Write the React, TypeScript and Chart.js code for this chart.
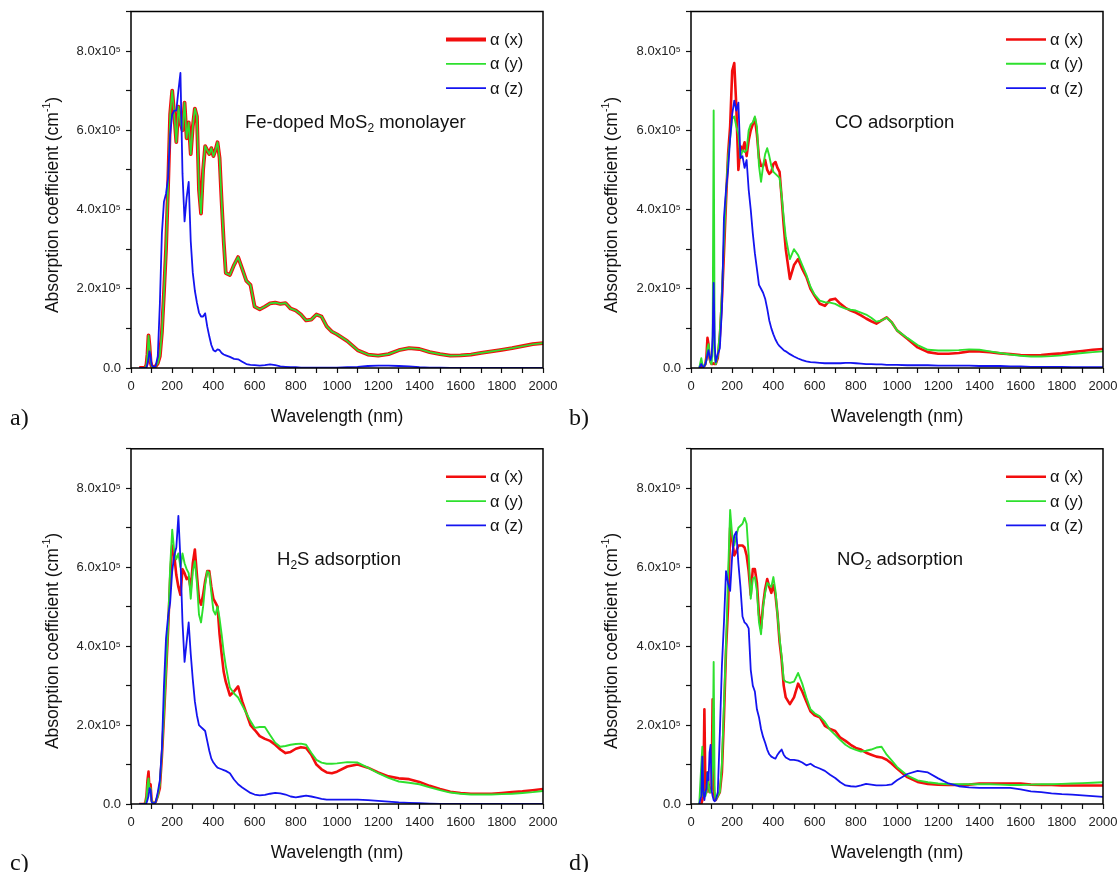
import React, { useEffect, useRef } from 'react';
import { Chart, registerables } from 'chart.js';

Chart.register(...registerables);

// ---------------- data (absorption coefficient in units of 10^5 cm^-1) ----------------
const wavelength = [
  40, 50, 55, 60, 65, 70, 75, 80, 85, 90, 95, 100, 105, 110, 115, 120, 130,
  140, 150, 160, 170, 180, 190, 200, 210, 220, 230, 240, 250, 260, 270, 280, 290, 300, 310, 320, 330,
  340, 350, 360, 370, 380, 390, 400, 410, 420, 430, 440, 450, 460,
  480, 500, 520, 540, 560, 580, 600, 625, 650, 675, 700, 725, 750, 775, 800, 825, 850, 875, 900, 925, 950, 975, 1000,
  1050, 1100, 1150, 1200, 1250, 1300, 1350, 1400, 1450, 1500, 1550, 1600, 1650, 1700, 1750, 1800, 1850, 1900, 1950, 2000,
];

// a) Fe-doped MoS2 monolayer
const feDopedX = [
  0, 0, 0, 0, 0, 0.02, 0.08, 0.35, 0.82, 0.55, 0.15, 0.05, 0.03, 0.03, 0.03, 0.05, 0.12,
  0.3, 0.9, 1.9, 3.0, 4.6, 6.4, 7.0, 6.4, 5.7, 6.6, 6.2, 6.0, 6.7, 5.8, 6.2, 5.4, 6.1, 6.55, 6.35, 4.5,
  3.9, 5.0, 5.6, 5.5, 5.4, 5.55, 5.35, 5.5, 5.7, 5.3, 4.2, 3.2, 2.4,
  2.35, 2.6, 2.8, 2.5, 2.2, 2.1, 1.55, 1.48, 1.55, 1.63, 1.65, 1.62, 1.64, 1.5, 1.45, 1.35, 1.2, 1.22, 1.35, 1.3, 1.05, 0.92, 0.85,
  0.68, 0.45, 0.34, 0.31, 0.35, 0.45, 0.5, 0.48, 0.4, 0.35, 0.31, 0.32, 0.34, 0.38, 0.42, 0.46, 0.5, 0.55, 0.6, 0.63,
];
const feDopedY = [
  0, 0, 0, 0, 0, 0.02, 0.08, 0.35, 0.82, 0.55, 0.15, 0.05, 0.03, 0.03, 0.03, 0.05, 0.12,
  0.3, 0.9, 1.9, 3.0, 4.6, 6.4, 7.0, 6.4, 5.7, 6.6, 6.2, 6.0, 6.7, 5.8, 6.2, 5.4, 6.1, 6.55, 6.35, 4.5,
  3.9, 5.0, 5.6, 5.5, 5.4, 5.55, 5.35, 5.5, 5.7, 5.3, 4.2, 3.2, 2.4,
  2.35, 2.6, 2.8, 2.5, 2.2, 2.1, 1.55, 1.48, 1.55, 1.63, 1.65, 1.62, 1.64, 1.5, 1.45, 1.35, 1.2, 1.22, 1.35, 1.3, 1.05, 0.92, 0.85,
  0.68, 0.45, 0.34, 0.31, 0.35, 0.45, 0.5, 0.48, 0.4, 0.35, 0.31, 0.32, 0.34, 0.38, 0.42, 0.46, 0.5, 0.55, 0.6, 0.63,
];
const feDopedZ = [
  0, 0, 0, 0, 0, 0, 0.02, 0.1, 0.25, 0.42, 0.3, 0.08, 0.04, 0.03, 0.03, 0.05, 0.3,
  1.6, 3.4, 4.2, 4.4, 4.8, 5.9, 6.4, 6.5, 6.5, 7.0, 7.45, 4.9, 3.7, 4.3, 4.7, 3.2, 2.4, 1.95, 1.65, 1.4,
  1.3, 1.3, 1.38, 1.05, 0.8, 0.58, 0.45, 0.42, 0.47, 0.45, 0.38, 0.34, 0.32,
  0.28, 0.23, 0.22, 0.16, 0.1, 0.08, 0.07, 0.06, 0.07, 0.09, 0.07, 0.04, 0.03, 0.02, 0.02, 0.01, 0.01, 0.01, 0.01, 0.01, 0.01, 0.01, 0.01,
  0.02, 0.03, 0.05, 0.06, 0.06, 0.05, 0.04, 0.02, 0.01, 0.01, 0, 0, 0, 0, 0, 0, 0, 0, 0, 0,
];

// b) CO adsorption
const coX = [
  0, 0.02, 0.05, 0.05, 0.05, 0.1, 0.3, 0.76, 0.6, 0.25, 0.15, 0.1, 0.1, 0.12, 0.1, 0.1, 0.25,
  0.8, 1.7, 2.9, 4.2, 5.4, 6.1, 7.5, 7.7, 6.6, 5.0, 5.6, 5.5, 5.7, 5.35, 5.75, 6.0, 6.15, 6.3, 5.9, 5.3,
  5.1, 5.1, 5.25, 5.0, 4.9, 4.95, 5.15, 5.2, 5.05, 4.95, 4.3, 3.6, 3.0,
  2.25, 2.6, 2.75, 2.5, 2.3, 2.0, 1.82, 1.62, 1.57, 1.72, 1.75, 1.62, 1.52, 1.45, 1.4, 1.33, 1.25, 1.18, 1.12, 1.2, 1.28, 1.15, 0.95,
  0.74, 0.52, 0.4, 0.36, 0.36, 0.38, 0.42, 0.42, 0.4, 0.37, 0.35, 0.33, 0.32, 0.33, 0.35, 0.37, 0.4, 0.43, 0.46, 0.48,
];
const coY = [
  0, 0.25, 0.1, 0.02, 0.05, 0.1, 0.2, 0.5, 0.6, 0.3, 0.15, 0.1, 0.5, 6.5, 0.3, 0.1, 0.3,
  0.9, 1.9, 3.2, 4.4, 5.3, 5.8, 6.3, 6.35, 6.1, 5.9, 5.3, 5.5, 5.45, 5.5, 6.0, 6.15, 6.2, 6.35, 6.1, 5.1,
  4.7, 5.1, 5.4, 5.55, 5.35, 5.1, 4.95, 4.9, 4.85, 4.8, 4.35, 3.8, 3.3,
  2.75, 3.0, 2.85, 2.6, 2.35, 2.05, 1.85, 1.7, 1.66, 1.65, 1.62, 1.55, 1.5, 1.47, 1.45, 1.4, 1.35, 1.27, 1.17, 1.2, 1.27, 1.15, 0.95,
  0.76, 0.58, 0.46, 0.44, 0.44, 0.45, 0.47, 0.46, 0.42, 0.38, 0.34, 0.31, 0.29, 0.29, 0.3, 0.32, 0.35, 0.38, 0.4, 0.42,
];
const coZ = [
  0, 0.1, 0.05, 0.02, 0.05, 0.1, 0.2, 0.35, 0.45, 0.3, 0.2, 0.3, 0.8, 2.15, 0.6, 0.15, 0.35,
  0.5, 1.5, 3.8, 4.5, 5.0, 5.8, 6.4, 6.75, 6.5, 6.7, 5.3, 5.35, 5.05, 5.25, 4.5, 4.0, 3.4, 2.9, 2.5, 2.1,
  2.0, 1.9, 1.75, 1.5, 1.2, 1.0, 0.85, 0.72, 0.62, 0.55, 0.5, 0.45, 0.42,
  0.35, 0.29, 0.24, 0.2, 0.17, 0.15, 0.14, 0.13, 0.12, 0.12, 0.12, 0.12, 0.13, 0.13, 0.12, 0.11, 0.1, 0.1, 0.09, 0.09, 0.08, 0.08, 0.08,
  0.07, 0.07, 0.07, 0.06, 0.06, 0.06, 0.06, 0.05, 0.05, 0.05, 0.04, 0.04, 0.03, 0.03, 0.03, 0.03, 0.02, 0.02, 0.02, 0.02,
];

// c) H2S adsorption
const h2sX = [
  0, 0, 0, 0, 0, 0.05, 0.2, 0.6, 0.82, 0.35, 0.5, 0.1, 0.03, 0.03, 0.03, 0.05, 0.2,
  0.4, 1.2, 2.2, 3.3, 4.4, 5.7, 6.55, 6.3, 5.8, 5.5, 5.3, 5.95, 5.85, 5.7, 5.75, 5.45, 6.1, 6.45, 5.8, 5.2,
  5.05, 5.3, 5.65, 5.9, 5.9, 5.5, 5.2, 5.1, 5.0, 4.3, 3.8, 3.35, 3.1,
  2.75, 2.85, 2.98, 2.6, 2.3, 2.0, 1.88, 1.72, 1.65, 1.6, 1.5, 1.38, 1.29, 1.32, 1.4, 1.44, 1.42, 1.25, 1.0, 0.88, 0.8, 0.78, 0.82,
  0.95, 1.0, 0.92, 0.8, 0.7, 0.65, 0.63, 0.56, 0.46, 0.38, 0.31, 0.28, 0.26, 0.26, 0.26, 0.28, 0.3, 0.32, 0.35, 0.38,
];
const h2sY = [
  0, 0, 0, 0, 0, 0.03, 0.15, 0.45, 0.65, 0.3, 0.4, 0.08, 0.03, 0.03, 0.03, 0.05, 0.2,
  0.5, 1.3, 2.3, 3.4, 4.5, 6.0, 6.95, 6.4, 6.2, 6.35, 6.0, 6.35, 6.1, 5.95, 5.85, 5.2, 5.9, 6.15, 5.6, 4.8,
  4.6, 5.0, 5.55, 5.9, 5.85, 5.35, 4.9, 4.8, 5.0, 4.7, 4.3, 3.85, 3.5,
  2.95, 2.8, 2.7, 2.5, 2.3, 2.1, 1.93, 1.95, 1.95, 1.75, 1.55, 1.45, 1.47, 1.5, 1.52, 1.53, 1.5, 1.3, 1.12, 1.05, 1.02, 1.02, 1.03,
  1.06, 1.05, 0.92, 0.78, 0.66, 0.57, 0.54, 0.5, 0.42, 0.35, 0.29, 0.26, 0.24, 0.24, 0.24, 0.25, 0.26, 0.28, 0.3, 0.33,
];
const h2sZ = [
  0, 0, 0, 0, 0, 0, 0.02, 0.1, 0.2, 0.4, 0.35, 0.05, 0.02, 0.02, 0.02, 0.05, 0.3,
  0.6, 1.4, 3.0, 4.2, 4.75, 5.1, 5.9, 6.3, 6.5, 7.3, 6.2, 4.6, 3.6, 4.1, 4.6, 3.8, 3.15, 2.6, 2.25, 2.0,
  1.95, 1.9, 1.85, 1.6, 1.35, 1.15, 1.05, 0.98, 0.92, 0.9, 0.88, 0.86, 0.84,
  0.78, 0.62, 0.5, 0.42, 0.35, 0.28, 0.24, 0.22, 0.23, 0.26, 0.28, 0.27, 0.24, 0.19, 0.17, 0.19, 0.21, 0.19, 0.16, 0.13, 0.11, 0.11, 0.11,
  0.11, 0.11, 0.1, 0.08, 0.06, 0.04, 0.03, 0.02, 0.01, 0, 0, 0, 0, 0, 0, 0, 0, 0, 0, 0,
];

// d) NO2 adsorption
const no2X = [
  0, 0, 0.1, 0.3, 2.4, 0.3, 0.3, 0.8, 0.5, 0.3, 0.3, 0.4, 2.65, 0.5, 0.1, 0.1, 0.2,
  0.3, 0.8, 2.2, 3.9, 5.0, 7.0, 6.7, 6.3, 6.4, 6.55, 6.55, 6.55, 6.5, 6.3, 5.9, 5.3, 5.95, 5.95, 5.6, 4.8,
  4.45, 5.05, 5.45, 5.7, 5.5, 5.35, 5.55, 5.3, 4.8, 4.1, 3.65, 3.0, 2.7,
  2.53, 2.7, 3.05, 2.85, 2.6, 2.35, 2.25, 2.2, 1.98, 1.9, 1.85, 1.68, 1.6, 1.5, 1.42, 1.38, 1.3, 1.25, 1.2, 1.18, 1.12, 1.02, 0.9,
  0.68, 0.56, 0.51, 0.49, 0.48, 0.48, 0.49, 0.52, 0.52, 0.52, 0.52, 0.52, 0.49, 0.48, 0.48, 0.47, 0.47, 0.47, 0.47, 0.47,
];
const no2Y = [
  0, 1.0, 1.45, 0.2, 0.3, 0.2, 0.3, 0.8, 0.5, 0.3, 0.3, 0.4, 1.0, 3.6, 0.3, 0.1, 0.2,
  0.3, 1.0, 2.5, 4.0, 5.8, 7.45, 6.8, 6.55, 6.8, 7.0, 7.05, 7.1, 7.25, 7.1, 6.3, 5.2, 5.7, 5.75, 5.4, 4.6,
  4.3, 5.0, 5.35, 5.6, 5.55, 5.5, 5.75, 5.4, 4.8, 4.2, 3.75, 3.15, 3.1,
  3.07, 3.1, 3.32, 3.05, 2.7, 2.4, 2.3, 2.22, 2.08, 1.88, 1.75, 1.62, 1.5, 1.42, 1.37, 1.33, 1.35, 1.38, 1.43, 1.45, 1.25, 1.1, 0.94,
  0.72, 0.6, 0.55, 0.52, 0.5, 0.5, 0.5, 0.5, 0.5, 0.49, 0.48, 0.48, 0.49, 0.5, 0.5, 0.51, 0.52, 0.53, 0.54, 0.55,
];
const no2Z = [
  0, 0.2, 1.2, 0.3, 0.1, 0.3, 0.4, 0.8, 0.6, 1.3, 1.5, 0.35, 0.2, 0.1, 0.07, 0.1, 0.3,
  1.8, 3.5, 4.6, 5.9, 5.6, 5.4, 6.3, 6.8, 6.9, 6.1, 5.5, 4.75, 4.6, 4.55, 4.45, 3.4, 3.0, 2.85, 2.4, 2.2,
  1.9, 1.7, 1.55, 1.38, 1.26, 1.2, 1.17, 1.15, 1.25, 1.32, 1.38, 1.25, 1.18,
  1.12, 1.12, 1.1, 1.05, 0.98, 1.02, 0.95, 0.9, 0.84, 0.74, 0.66, 0.55, 0.47, 0.45, 0.44, 0.47, 0.51, 0.49, 0.47, 0.47, 0.48, 0.5, 0.6,
  0.76, 0.84, 0.8, 0.65, 0.52, 0.45, 0.42, 0.41, 0.41, 0.41, 0.41, 0.37, 0.32, 0.3, 0.27, 0.25, 0.24, 0.22, 0.2, 0.18,
];

const seriesLabels = ['α (x)', 'α (y)', 'α (z)'];
const xTickLabels = ['0', '200', '400', '600', '800', '1000', '1200', '1400', '1600', '1800', '2000'];
const yTickLabels = ['0.0', '2.0x10⁵', '4.0x10⁵', '6.0x10⁵', '8.0x10⁵'];

// ---------------- styling ----------------
const FONT = '"Liberation Sans", Arial, Helvetica, sans-serif';
const SERIF = '"Liberation Serif", "Times New Roman", serif';
const COLORS = ['#f20d0d', '#2ee02e', '#1414f0'];
const CW = 559;
const CH = 436;

const framePlugin = {
  id: 'frameAndLegend',
  afterDatasetsDraw(chart: any) {
    const { ctx, chartArea } = chart;
    const { left, top, right, bottom } = chartArea;
    ctx.save();
    ctx.strokeStyle = '#000';
    ctx.lineWidth = 1.5;
    ctx.strokeRect(left, top, right - left, bottom - top);
    chart.data.datasets.forEach((ds: any, i: number) => {
      const y = top + 28 + i * 24.3;
      ctx.strokeStyle = ds.borderColor;
      ctx.lineWidth = ds.borderWidth;
      ctx.lineCap = 'butt';
      ctx.beginPath();
      ctx.moveTo(right - 97, y);
      ctx.lineTo(right - 57, y);
      ctx.stroke();
      ctx.fillStyle = '#111';
      ctx.font = `16.5px ${FONT}`;
      ctx.textBaseline = 'middle';
      ctx.textAlign = 'left';
      ctx.fillText(ds.label, right - 53, y + 1);
    });
    ctx.restore();
  },
};

type PanelProps = {
  cx: number;
  cy: number;
  yW: number;
  padR: number;
  padT: number;
  xH: number;
  series: number[][];
  widths: number[];
  letter: string;
  letterDy: number;
  noteDx: number;
  note: React.ReactNode;
};

function Panel(p: PanelProps) {
  const ref = useRef<HTMLCanvasElement>(null);
  useEffect(() => {
    const chart = new Chart(ref.current as HTMLCanvasElement, {
      type: 'line',
      data: {
        datasets: p.series.map((vals, i) => ({
          label: seriesLabels[i],
          data: wavelength.map((w, k) => ({ x: w, y: vals[k] })),
          borderColor: COLORS[i],
          backgroundColor: COLORS[i],
          borderWidth: p.widths[i],
          pointRadius: 0,
          tension: 0,
          fill: false,
          order: 3 - i,
        })),
      },
      options: {
        responsive: false,
        animation: false,
        events: [],
        layout: { padding: { top: p.padT, right: p.padR, bottom: 0, left: 0 } },
        plugins: { legend: { display: false }, tooltip: { enabled: false }, title: { display: false } },
        elements: { line: { borderJoinStyle: 'round' } },
        scales: {
          x: {
            type: 'linear',
            min: 0,
            max: 2000,
            afterFit: (s: any) => {
              s.height = p.xH;
              s.paddingLeft = 0;
              s.paddingRight = 0;
            },
            ticks: {
              stepSize: 100,
              autoSkip: false,
              maxRotation: 0,
              minRotation: 0,
              padding: 6,
              color: '#222',
              font: { family: FONT, size: 13 },
              callback: (v: any) => (Number(v) % 200 === 0 ? xTickLabels[Number(v) / 200] : ''),
            },
            grid: { drawOnChartArea: false, drawTicks: true, tickLength: 5, tickColor: '#111', tickWidth: 1.2 },
            border: { display: false },
          },
          y: {
            type: 'linear',
            min: 0,
            max: 9,
            afterFit: (s: any) => {
              s.width = p.yW;
              s.paddingTop = 0;
              s.paddingBottom = 0;
            },
            ticks: {
              stepSize: 1,
              autoSkip: false,
              padding: 5,
              color: '#222',
              font: { family: FONT, size: 13 },
              callback: (v: any) => (Number(v) % 2 === 0 ? yTickLabels[Number(v) / 2] ?? '' : ''),
            },
            grid: { drawOnChartArea: false, drawTicks: true, tickLength: 5, tickColor: '#111', tickWidth: 1.2 },
            border: { display: false },
          },
        },
      } as any,
      plugins: [framePlugin],
    });
    return () => chart.destroy();
  }, []);

  const L = p.cx + p.yW;
  const R = p.cx + CW - p.padR;
  const T = p.cy + p.padT;
  const B = p.cy + CH - p.xH;

  return (
    <>
      <canvas
        ref={ref}
        width={CW}
        height={CH}
        style={{ position: 'absolute', left: p.cx, top: p.cy, width: CW, height: CH }}
      />
      <div
        style={{
          position: 'absolute',
          left: L,
          width: R - L,
          top: B + 48 - 11,
          height: 22,
          lineHeight: '22px',
          textAlign: 'center',
          fontSize: 17.5,
          fontFamily: FONT,
          color: '#111',
        }}
      >
        Wavelength (nm)
      </div>
      <div
        style={{
          position: 'absolute',
          left: p.cx + 52 - 150,
          top: (T + B) / 2 + 15 - 11,
          width: 300,
          height: 22,
          lineHeight: '22px',
          textAlign: 'center',
          fontSize: 17.5,
          fontFamily: FONT,
          color: '#111',
          transform: 'rotate(-90deg)',
          whiteSpace: 'nowrap',
        }}
      >
        Absorption coefficient (cm
        <span style={{ fontSize: '0.6em', verticalAlign: '0.75em', lineHeight: 0 }}>-1</span>)
      </div>
      <div
        style={{
          position: 'absolute',
          left: L + p.noteDx,
          top: T + 110 - 12,
          height: 24,
          lineHeight: '24px',
          fontSize: 18.5,
          fontFamily: FONT,
          color: '#111',
          whiteSpace: 'nowrap',
        }}
      >
        {p.note}
      </div>
      <div
        style={{
          position: 'absolute',
          left: p.cx + 10,
          top: B + p.letterDy - 14,
          height: 28,
          lineHeight: '28px',
          fontSize: 24,
          fontFamily: SERIF,
          color: '#111',
        }}
      >
        {p.letter}
      </div>
    </>
  );
}

const subStyle: React.CSSProperties = { fontSize: '0.65em', verticalAlign: '-0.35em', lineHeight: 0 };

export default function App() {
  return (
    <div
      style={{
        position: 'absolute',
        left: 0,
        top: 0,
        width: 1118,
        height: 872,
        background: '#fff',
        overflow: 'hidden',
      }}
    >
      <Panel
        cx={0}
        cy={0}
        yW={131}
        padR={16}
        padT={11.5}
        xH={68}
        series={[feDopedX, feDopedY, feDopedZ]}
        widths={[3.8, 1.7, 1.8]}
        letter="a)"
        letterDy={49}
        noteDx={114}
        note={
          <>
            Fe-doped MoS<sub style={subStyle}>2</sub> monolayer
          </>
        }
      />
      <Panel
        cx={559}
        cy={0}
        yW={132}
        padR={15}
        padT={11.5}
        xH={68}
        series={[coX, coY, coZ]}
        widths={[2.6, 1.9, 1.8]}
        letter="b)"
        letterDy={49}
        noteDx={144}
        note={<>CO adsorption</>}
      />
      <Panel
        cx={0}
        cy={436}
        yW={131}
        padR={16}
        padT={12.8}
        xH={68}
        series={[h2sX, h2sY, h2sZ]}
        widths={[2.6, 1.9, 1.8]}
        letter="c)"
        letterDy={58}
        noteDx={146}
        note={
          <>
            H<sub style={subStyle}>2</sub>S adsorption
          </>
        }
      />
      <Panel
        cx={559}
        cy={436}
        yW={132}
        padR={15}
        padT={12.8}
        xH={68}
        series={[no2X, no2Y, no2Z]}
        widths={[2.6, 1.9, 1.8]}
        letter="d)"
        letterDy={58}
        noteDx={146}
        note={
          <>
            NO<sub style={subStyle}>2</sub> adsorption
          </>
        }
      />
    </div>
  );
}
